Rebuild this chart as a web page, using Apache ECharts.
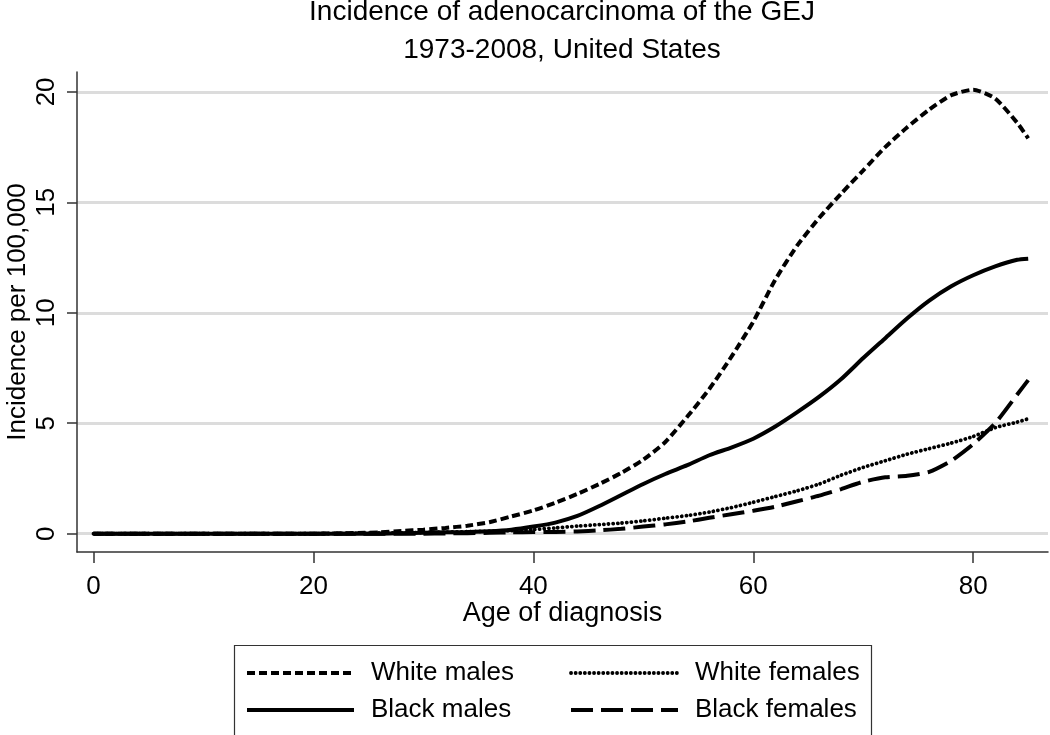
<!DOCTYPE html>
<html>
<head>
<meta charset="utf-8">
<script src="https://cdn.jsdelivr.net/npm/echarts@6/dist/echarts.min.js"></script>
<style>
html,body{margin:0;padding:0;background:#fff;}
#chart{width:1050px;height:735px;}
</style>
</head>
<body>
<div id="chart"></div>
<script>
const ages = [0, 5, 10, 15, 20, 22, 24, 26, 28, 30, 32, 34, 36, 38, 40, 42, 44, 46, 48, 50, 52, 54, 56, 58, 60, 62, 64, 66, 68, 70, 72, 74, 76, 78, 80, 82, 84, 85];
const whiteMales   = [0, 0, 0, 0, 0, 0.01, 0.03, 0.06, 0.12, 0.18, 0.26, 0.36, 0.52, 0.78, 1.05, 1.4, 1.8, 2.25, 2.75, 3.35, 4.15, 5.3, 6.55, 8.0, 9.6, 11.5, 13.05, 14.3, 15.4, 16.45, 17.5, 18.4, 19.2, 19.85, 20.1, 19.7, 18.6, 17.9];
const blackMales   = [0, 0, 0, 0, 0, 0, 0, 0, 0.02, 0.04, 0.06, 0.08, 0.11, 0.18, 0.32, 0.5, 0.8, 1.25, 1.75, 2.25, 2.7, 3.1, 3.55, 3.9, 4.3, 4.85, 5.5, 6.2, 7.0, 7.95, 8.85, 9.75, 10.55, 11.2, 11.7, 12.1, 12.4, 12.45];
const whiteFemales = [0, 0, 0, 0, 0, 0.01, 0.02, 0.03, 0.04, 0.05, 0.07, 0.09, 0.11, 0.14, 0.19, 0.26, 0.34, 0.41, 0.48, 0.58, 0.7, 0.82, 0.98, 1.18, 1.42, 1.68, 1.94, 2.25, 2.65, 3.0, 3.3, 3.6, 3.85, 4.1, 4.4, 4.8, 5.05, 5.2];
const blackFemales = [0, 0, 0, 0, 0, 0, 0, 0, 0, 0, 0.01, 0.02, 0.04, 0.06, 0.07, 0.08, 0.1, 0.15, 0.22, 0.32, 0.42, 0.55, 0.72, 0.88, 1.04, 1.22, 1.47, 1.72, 2.02, 2.35, 2.55, 2.62, 2.8, 3.3, 4.05, 5.0, 6.3, 6.95];
const xTicks = [0, 20, 40, 60, 80];
const yTicks = [0, 5, 10, 15, 20];
const seriesNames = ['White males', 'Black males', 'White females', 'Black females'];
const titleLines = ['Incidence of adenocarcinoma of the GEJ', '1973-2008, United States'];

const FONT = '"Liberation Sans", Arial, sans-serif';
const pairs = arr => ages.map((a, i) => [a, arr[i]]);
const styles = [
  {type: [8, 4], width: 4, cap: 'butt'},
  {type: 'solid', width: 4, cap: 'butt'},
  {type: [0.1, 4.5], width: 3.8, cap: 'round'},
  {type: [22, 8], width: 4, cap: 'butt'}
];
const dataSets = [whiteMales, blackMales, whiteFemales, blackFemales];
const legendItem = i => ({name: seriesNames[i],
  lineStyle: {width: styles[i].width, type: styles[i].type, cap: styles[i].cap, color: '#000'}});
const legendBase = {
  orient: 'vertical', top: 660, itemWidth: 107, itemHeight: 14, itemGap: 11, padding: 0,
  itemStyle: {opacity: 0},
  textStyle: {fontFamily: FONT, fontSize: 26, color: '#000', lineHeight: 26, padding: [0, 0, 0, 12]}
};

const chart = echarts.init(document.getElementById('chart'), null, {renderer: 'canvas'});
chart.setOption({
  animation: false,
  backgroundColor: '#ffffff',
  textStyle: {fontFamily: FONT, color: '#000'},
  title: [
    {text: titleLines[0], left: 562, top: -2, textAlign: 'center', padding: 0,
     textStyle: {fontFamily: FONT, fontSize: 28, fontWeight: 'normal', color: '#000', lineHeight: 28}},
    {text: titleLines[1], left: 562, top: 36, textAlign: 'center', padding: 0,
     textStyle: {fontFamily: FONT, fontSize: 28, fontWeight: 'normal', color: '#000', lineHeight: 28}}
  ],
  grid: {left: 77, right: 2, top: 72, bottom: 183, containLabel: false, outerBoundsMode: 'none'},
  xAxis: {
    type: 'value', min: -1.5, max: 86.8,
    name: 'Age of diagnosis', nameLocation: 'middle', nameGap: 48, nameMoveOverlap: false,
    nameTextStyle: {fontFamily: FONT, fontSize: 27, color: '#000'},
    axisLine: {show: true, onZero: false, lineStyle: {color: '#333', width: 1.5}},
    axisTick: {show: true, length: 11, customValues: xTicks, lineStyle: {color: '#333', width: 1.5}},
    axisLabel: {customValues: xTicks, margin: 22, fontFamily: FONT, fontSize: 26, color: '#000'},
    splitLine: {show: false}
  },
  yAxis: {
    type: 'value', min: -0.83, max: 20.9,
    name: 'Incidence per 100,000', nameLocation: 'middle', nameGap: 46, nameRotate: 90, nameMoveOverlap: false,
    nameTextStyle: {fontFamily: FONT, fontSize: 26, color: '#000'},
    axisLine: {show: true, onZero: false, lineStyle: {color: '#333', width: 1.5}},
    axisTick: {show: true, length: 10, customValues: yTicks, lineStyle: {color: '#333', width: 1.5}},
    axisLabel: {customValues: yTicks, rotate: 90, margin: 17, fontFamily: FONT, fontSize: 26, color: '#000'},
    splitLine: {show: true, lineStyle: {color: '#dcdcdc', width: 3}}
  },
  legend: [
    Object.assign({}, legendBase, {left: 245, data: [legendItem(0), legendItem(1)]}),
    Object.assign({}, legendBase, {left: 569, data: [legendItem(2), legendItem(3)]})
  ],
  graphic: [
    {type: 'rect', left: 232, top: 643, shape: {width: 637, height: 90},
     style: {fill: 'none', stroke: '#333', lineWidth: 1.2}, silent: true}
  ],
  series: dataSets.map((d, i) => ({
    name: seriesNames[i],
    type: 'line',
    data: pairs(d),
    symbol: 'none',
    showSymbol: false,
    smooth: 0.2,
    z: 10 - i,
    itemStyle: {color: '#000'},
    lineStyle: {color: '#000', width: styles[i].width, type: styles[i].type, cap: styles[i].cap}
  }))
});
</script>
</body>
</html>
